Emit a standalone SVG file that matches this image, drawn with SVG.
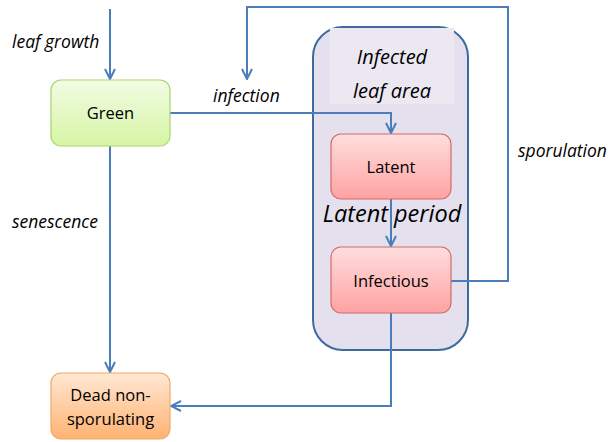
<svg xmlns="http://www.w3.org/2000/svg" width="608" height="442" viewBox="0 0 608 442">
<style>
.t{font-family:"Open Sans","Liberation Sans",sans-serif;fill:#000}
.lbl{font-size:17.5px;font-style:italic}
.node{font-size:16.5px;text-anchor:middle}
.c{fill:none;stroke:#4a7ebb;stroke-width:2}
</style>
<defs>
<linearGradient id="gG" x1="0" y1="0" x2="0" y2="1"><stop offset="0" stop-color="#f2fce4"/><stop offset="1" stop-color="#d6f5a4"/></linearGradient>
<linearGradient id="gR" x1="0" y1="0" x2="0" y2="1"><stop offset="0" stop-color="#ffdede"/><stop offset="1" stop-color="#ffa2a2"/></linearGradient>
<linearGradient id="gO" x1="0" y1="0" x2="0" y2="1"><stop offset="0" stop-color="#ffe8d4"/><stop offset="1" stop-color="#ffb272"/></linearGradient>
<marker id="ah" viewBox="0 0 12 12" refX="11" refY="6" markerWidth="12" markerHeight="12" markerUnits="userSpaceOnUse" orient="auto"><path d="M1,1 L11,6 L1,11" fill="none" stroke="#4a7ebb" stroke-width="2"/></marker>
</defs>
<g id="infected-area">
<rect x="313" y="27" width="155" height="323" rx="30" fill="#e4e0ee" stroke="#3f6aa0" stroke-width="2"/>
<rect x="330" y="28" width="124" height="76" fill="#ebe8f2"/>
<text class="t" x="392" y="64" font-size="20" font-style="italic" text-anchor="middle">Infected</text>
<text class="t" x="392" y="98" font-size="20" font-style="italic" text-anchor="middle">leaf area</text>
</g>
<g id="connectors">
<path class="c" d="M110,9 V79" marker-end="url(#ah)"/>
<path class="c" d="M170,113 H391 V133" marker-end="url(#ah)"/>
<path class="c" d="M451,281 H508 V7 H247 V79" marker-end="url(#ah)"/>
<path class="c" d="M391,199 V246" marker-end="url(#ah)"/>
<path class="c" d="M110,146 V372" marker-end="url(#ah)"/>
<path class="c" d="M391,313 V406 H171" marker-end="url(#ah)"/>
</g>
<g id="labels">
<text class="t lbl" x="12" y="48">leaf growth</text>
<text class="t lbl" x="213" y="102">infection</text>
<text class="t lbl" x="518" y="157">sporulation</text>
<text class="t lbl" x="12" y="228">senescence</text>
<text class="t" x="392" y="222" font-size="23.5" font-style="italic" text-anchor="middle">Latent period</text>
</g>
<g id="green">
<rect x="51" y="80" width="119" height="66" rx="10" fill="url(#gG)" stroke="#a9d36e" stroke-width="1.2"/>
<text class="t node" x="110.5" y="119">Green</text>
</g>
<g id="latent">
<rect x="331" y="134" width="120" height="65" rx="10" fill="url(#gR)" stroke="#d46a6a" stroke-width="1.2"/>
<text class="t node" x="391" y="173">Latent</text>
</g>
<g id="infectious">
<rect x="331" y="247" width="120" height="66" rx="10" fill="url(#gR)" stroke="#d46a6a" stroke-width="1.2"/>
<text class="t node" x="391" y="287">Infectious</text>
</g>
<g id="dead">
<rect x="51" y="373" width="119" height="66" rx="10" fill="url(#gO)" stroke="#f3a765" stroke-width="1.2"/>
<text class="t node" x="110.5" y="401">Dead non-</text>
<text class="t node" x="110.5" y="425">sporulating</text>
</g>
</svg>
